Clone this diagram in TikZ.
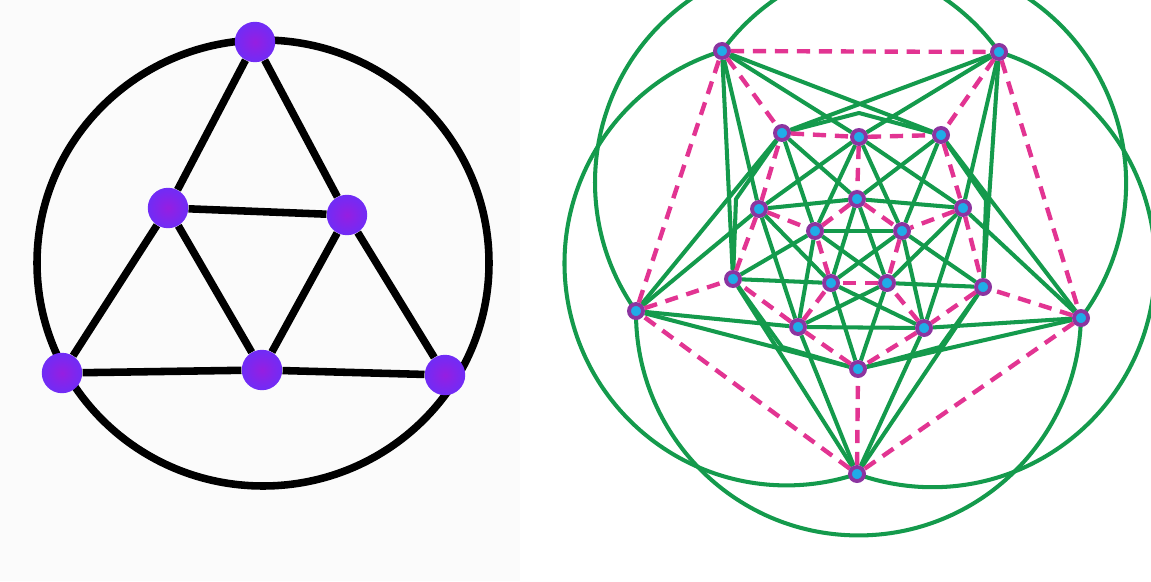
\documentclass[tikz,border=0pt]{standalone}
\usetikzlibrary{backgrounds}
\definecolor{grn}{RGB}{20,154,76}
\definecolor{mag}{RGB}{226,52,146}
\definecolor{pur}{RGB}{140,52,160}
\definecolor{cyanb}{RGB}{32,172,232}
\definecolor{vio}{RGB}{112,44,246}
\definecolor{viocore}{RGB}{150,30,225}
\tikzset{
  gl/.style={draw=grn, line width=2.3pt, line join=round},
  dl/.style={draw=mag, line width=2.5pt, dash pattern=on 7.5pt off 5pt},
  dot/.style={circle, fill=cyanb, draw=pur, line width=2.2pt, minimum size=8pt, inner sep=0pt},
  fdot/.style={circle, inner sep=0pt, minimum size=23pt, shading=radial, inner color=viocore, outer color=vio},
  bl/.style={draw=black, line width=4.3pt},
}
\begin{document}
\begin{tikzpicture}[x=0.02cm, y=-0.02cm]
\useasboundingbox (0,0) rectangle (1151,581);
% ---------- left figure ----------
\coordinate (FC) at (263,263);
\node[fdot] (F1) at (255,42) {};
\node[fdot] (F2) at (168,208) {};
\node[fdot] (F3) at (347,215) {};
\node[fdot] (F4) at (62,373) {};
\node[fdot] (F5) at (262,370) {};
\node[fdot] (F6) at (445,375) {};
% ---------- right figure ----------
\node[dot] (O1) at (722,51) {};
\node[dot] (O2) at (999,52) {};
\node[dot] (O3) at (1081,318) {};
\node[dot] (O4) at (857,474) {};
\node[dot] (O5) at (636,311) {};
\node[dot] (M1) at (782,133) {};
\node[dot] (M2) at (859,137) {};
\node[dot] (M3) at (941,135) {};
\node[dot] (M4) at (963,208) {};
\node[dot] (M5) at (983,287) {};
\node[dot] (M6) at (924,328) {};
\node[dot] (M7) at (858,369) {};
\node[dot] (M8) at (798,327) {};
\node[dot] (M9) at (733,279) {};
\node[dot] (M10) at (759,209) {};
\node[dot] (I1) at (857,199) {};
\node[dot] (I2) at (815,231) {};
\node[dot] (I3) at (902,231) {};
\node[dot] (I4) at (887,283) {};
\node[dot] (I5) at (831,283) {};
% bend points of the curved connectors
\coordinate (K1) at (859,113);
\coordinate (K2) at (986,200);
\coordinate (K3) at (940,347);
\coordinate (K4) at (782,347);
\coordinate (K5) at (736,199);
\begin{scope}[on background layer]
  \fill[gray!3] (0,0) rectangle (520,581);
  \draw[bl] (FC) circle[x radius=226, y radius=223];
  \draw[bl] (F1) -- (F2) -- (F4);
  \draw[bl] (F1) -- (F3) -- (F6);
  \draw[bl] (F4) -- (F5) -- (F6);
  \draw[bl] (F2) -- (F3) -- (F5) -- (F2);
  % green arcs between non-adjacent outer points
  \draw[gl] (O1.center) arc[start angle=-106.9, end angle=-288.5, radius=222];
  \draw[gl] (O2.center) arc[start angle=-72.62, end angle=109.82, radius=222.7];
  \draw[gl] (O5.center) arc[start angle=180.5, end angle=1.29, radius=222.5];
  \draw[gl] (O2.center) arc[start angle=-35.74, end angle=-215.27, radius=223];
  \draw[gl] (O1.center) arc[start angle=-143.75, end angle=37.02, radius=223.7];
  % green straight lines
  \foreach \a/\b in {O2/M1, O5/M1, O1/M3, O3/M3, O2/M5, O4/M5, O3/M7, O5/M7, O4/M9, O1/M9,
      O1/M10, O1/M2, M10/M2, M1/I1, M3/I1, M2/M4, M2/O2, M4/O2, M3/I3, M5/I3,
      M4/M6, M4/O3, M6/O3, M5/I4, M7/I4, M6/M8, M6/O4, M8/O4, M7/I5, M9/I5,
      M8/M10, M8/O5, M10/O5, M9/I2, M1/I2,
      M2/I2, M2/I3, I2/I3, M10/I1, M10/I5, I1/I5, M4/I1, M4/I4, I1/I4,
      M6/I3, M6/I5, I3/I5, M8/I4, M8/I2, I4/I2}
    \draw[gl] (\a) -- (\b);
  % green bent connectors
  \foreach \a/\k/\b in {M1/K1/M3, M3/K2/M5, M5/K3/M7, M7/K4/M9, M9/K5/M1}
    \draw[gl] (\a) -- (\k) -- (\b);
  % dashed magenta edges
  \foreach \a/\b in {O1/O2, O2/O3, O3/O4, O4/O5, O5/O1,
      O1/M1, O2/M3, O3/M5, O4/M7, O5/M9,
      M1/M2, M2/M3, M3/M4, M4/M5, M5/M6, M6/M7, M7/M8, M8/M9, M9/M10, M10/M1,
      M2/I1, M4/I3, M6/I4, M8/I5, M10/I2,
      I1/I3, I3/I4, I4/I5, I5/I2, I2/I1}
    \draw[dl] (\a) -- (\b);
\end{scope}
\end{tikzpicture}
\end{document}
